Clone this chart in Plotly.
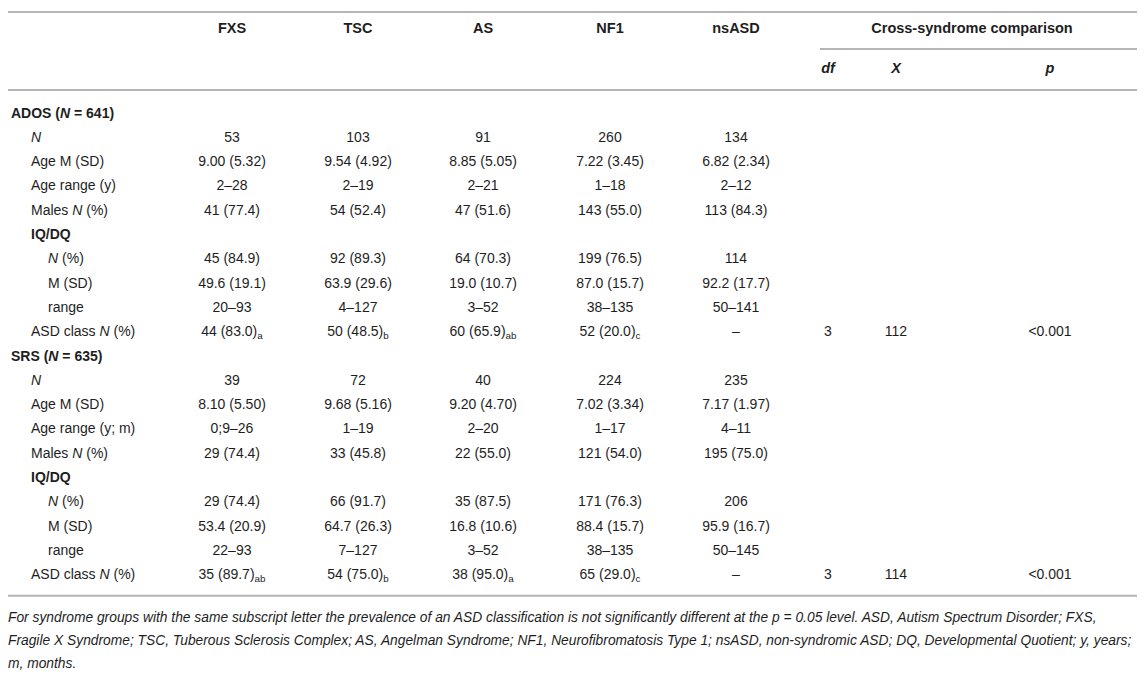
import plotly.graph_objects as go

# --- data ---
groups = ["FXS", "TSC", "AS", "NF1", "nsASD"]
stat_cols = ["df", "X", "p"]

ados_n = [53, 103, 91, 260, 134]
ados_age_mean = [9.00, 9.54, 8.85, 7.22, 6.82]
ados_age_sd = [5.32, 4.92, 5.05, 3.45, 2.34]
ados_age_range = ["2–28", "2–19", "2–21", "1–18", "2–12"]
ados_males_n = [41, 54, 47, 143, 113]
ados_males_pct = [77.4, 52.4, 51.6, 55.0, 84.3]
ados_iq_n = [45, 92, 64, 199, 114]
ados_iq_pct = [84.9, 89.3, 70.3, 76.5, None]
ados_iq_mean = [49.6, 63.9, 19.0, 87.0, 92.2]
ados_iq_sd = [19.1, 29.6, 10.7, 15.7, 17.7]
ados_iq_range = ["20–93", "4–127", "3–52", "38–135", "50–141"]
ados_asd_n = [44, 50, 60, 52, None]
ados_asd_pct = [83.0, 48.5, 65.9, 20.0, None]
ados_asd_sub = ["a", "b", "ab", "c", ""]
ados_stats = ["3", "112", "<0.001"]

srs_n = [39, 72, 40, 224, 235]
srs_age_mean = [8.10, 9.68, 9.20, 7.02, 7.17]
srs_age_sd = [5.50, 5.16, 4.70, 3.34, 1.97]
srs_age_range = ["0;9–26", "1–19", "2–20", "1–17", "4–11"]
srs_males_n = [29, 33, 22, 121, 195]
srs_males_pct = [74.4, 45.8, 55.0, 54.0, 75.0]
srs_iq_n = [29, 66, 35, 171, 206]
srs_iq_pct = [74.4, 91.7, 87.5, 76.3, None]
srs_iq_mean = [53.4, 64.7, 16.8, 88.4, 95.9]
srs_iq_sd = [20.9, 26.3, 10.6, 15.7, 16.7]
srs_iq_range = ["22–93", "7–127", "3–52", "38–135", "50–145"]
srs_asd_n = [35, 54, 38, 65, None]
srs_asd_pct = [89.7, 75.0, 95.0, 29.0, None]
srs_asd_sub = ["ab", "b", "a", "c", ""]
srs_stats = ["3", "114", "<0.001"]

footnote = [
    "For syndrome groups with the same subscript letter the prevalence of an ASD classification is not significantly different at the p = 0.05 level. ASD, Autism Spectrum Disorder; FXS,",
    "Fragile X Syndrome; TSC, Tuberous Sclerosis Complex; AS, Angelman Syndrome; NF1, Neurofibromatosis Type 1; nsASD, non-syndromic ASD; DQ, Developmental Quotient; y, years;",
    "m, months.",
]

# --- layout constants ---
W, H = 1145, 696
FONT = "Liberation Sans, Arial, Helvetica, sans-serif"
TXT = "#1e1e1e"
RULE = "#b5b5b5"
col_x = [224, 350, 475, 602, 728]
stat_x = [820, 888, 1042]
indent_x = [3, 23, 40]
row_y0 = 106
row_step = 24.3


def mean_sd(m, s, fmt):
    return [fmt.format(a) + " (" + fmt.format(b) + ")" for a, b in zip(m, s)]


def n_pct(n, p):
    return [str(a) if b is None else "%d (%.1f)" % (a, b) for a, b in zip(n, p)]


def asd(n, p, sub):
    out = []
    for a, b, c in zip(n, p, sub):
        out.append("–" if a is None else "%d (%.1f)<sub>%s</sub>" % (a, b, c))
    return out


def block(title, age_label, n, am, asd_, ar, mn, mp, iqn, iqp, iqm, iqs, iqr, an, ap, asub, stats):
    return [
        (title, 0, None, None),
        ("<i>N</i>", 1, [str(v) for v in n], None),
        ("Age M (SD)", 1, mean_sd(am, asd_, "{:.2f}"), None),
        (age_label, 1, ar, None),
        ("Males <i>N</i> (%)", 1, n_pct(mn, mp), None),
        ("<b>IQ/DQ</b>", 1, None, None),
        ("<i>N</i> (%)", 2, n_pct(iqn, iqp), None),
        ("M (SD)", 2, mean_sd(iqm, iqs, "{:.1f}"), None),
        ("range", 2, iqr, None),
        ("ASD class <i>N</i> (%)", 1, asd(an, ap, asub), stats),
    ]


rows = block("<b>ADOS (<i>N</i> = 641)</b>", "Age range (y)", ados_n, ados_age_mean, ados_age_sd,
             ados_age_range, ados_males_n, ados_males_pct, ados_iq_n, ados_iq_pct, ados_iq_mean,
             ados_iq_sd, ados_iq_range, ados_asd_n, ados_asd_pct, ados_asd_sub, ados_stats)
rows += block("<b>SRS (<i>N</i> = 635)</b>", "Age range (y; m)", srs_n, srs_age_mean, srs_age_sd,
              srs_age_range, srs_males_n, srs_males_pct, srs_iq_n, srs_iq_pct, srs_iq_mean,
              srs_iq_sd, srs_iq_range, srs_asd_n, srs_asd_pct, srs_asd_sub, srs_stats)

fig = go.Figure()


def add_text(xs, ys, texts, pos="middle center", size=14):
    fig.add_trace(go.Scatter(
        x=xs, y=ys, text=texts, mode="text", textposition=pos,
        textfont=dict(family=FONT, size=size, color=TXT),
        hoverinfo="skip", showlegend=False, cliponaxis=False))


# header
add_text(col_x, [21] * len(groups), ["<b>%s</b>" % g for g in groups], size=14.5)
add_text([964], [21], ["<b>Cross-syndrome comparison</b>"], size=14.5)
add_text(stat_x, [61] * 3, ["<b><i>%s</i></b>" % s for s in stat_cols], size=14.5)

# body
lab_x, lab_y, lab_t = [], [], []
for i, (label, lvl, vals, stats) in enumerate(rows):
    y = row_y0 + i * row_step
    lab_x.append(indent_x[lvl])
    lab_y.append(y)
    lab_t.append(label)
    if vals:
        add_text(col_x, [y] * len(vals), vals)
    if stats:
        add_text(stat_x, [y] * len(stats), stats)
add_text(lab_x, lab_y, lab_t, pos="middle right")

# footnote
last_row = row_y0 + (len(rows) - 1) * row_step
bottom_rule = last_row + 20
add_text([0] * len(footnote), [bottom_rule + 23 + k * 23 for k in range(len(footnote))],
         ["<i>%s</i>" % t for t in footnote], pos="middle right", size=13.8)

# rules
for y, x0 in [(4, 0), (41, 812), (82, 0), (bottom_rule, 0)]:
    fig.add_shape(type="line", x0=x0, x1=W, y0=y, y1=y, xref="x", yref="y",
                  line=dict(color=RULE, width=2))

fig.update_layout(
    width=W, height=H, margin=dict(l=0, r=0, t=0, b=0),
    paper_bgcolor="white", plot_bgcolor="white",
    xaxis=dict(range=[0, W], visible=False, fixedrange=True),
    yaxis=dict(range=[H, 0], visible=False, fixedrange=True),
)

fig.write_html("out.html")
